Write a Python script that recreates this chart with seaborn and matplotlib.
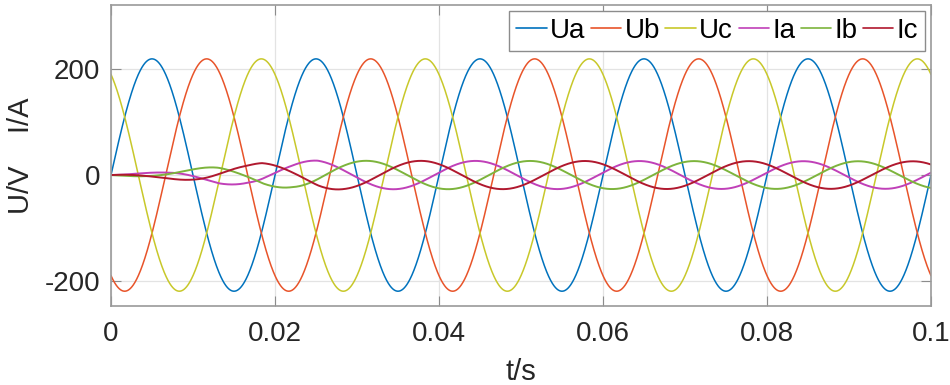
#!/usr/bin/env python3

# Three-phase grid voltages and inverter currents during start-up.

import matplotlib.pyplot as plt
import numpy as np
import pandas
import seaborn as sns

# values
phases = ["a", "b", "c"]
phase_shift_deg = [0, -120, 120]
volt_peak = 220.0
freq_hz = 50.0
t_end = 0.1
# current leads the voltage slightly
current_lead_deg = 10
# current peak values as the controller ramps up (t in s, amplitude in A)
env_t = [0, 0.0066, 0.0098, 0.0131, 0.0167, 0.0184, 0.022, 0.0252, 0.0285, 0.1]
env_amp = [0, 6, 11, 17, 19, 23, 24, 28, 27, 26]

series_names = ["Ua", "Ub", "Uc", "Ia", "Ib", "Ic"]
colors = ["#0072BD", "#E8542A", "#C8C82A", "#C040B8", "#7DB43C", "#B0182E"]
xticks = [0, 0.02, 0.04, 0.06, 0.08, 0.1]
xticklabels = ["0", "0.02", "0.04", "0.06", "0.08", "0.1"]
yticks = [-200, 0, 200]


def build_frame():
    t = np.linspace(0, t_end, 4001)
    w = 2 * np.pi * freq_hz
    env = np.interp(t, env_t, env_amp)
    rows = []
    for p, shift in zip(phases, phase_shift_deg):
        u = volt_peak * np.sin(w * t + np.radians(shift))
        rows.append(pandas.DataFrame({"t": t, "value": u, "series": "U" + p}))
    for p, shift in zip(phases, phase_shift_deg):
        i = env * np.sin(w * t + np.radians(shift + current_lead_deg))
        rows.append(pandas.DataFrame({"t": t, "value": i, "series": "I" + p}))
    return pandas.concat(rows, ignore_index=True)


def make_plot(df, outfile="out.png"):
    sns.set_theme(style="whitegrid")
    plt.rcParams["font.family"] = ["Liberation Sans", "DejaVu Sans"]
    plt.rcParams["axes.unicode_minus"] = False

    fig = plt.figure(figsize=(9.5, 3.85), dpi=100)
    ax = fig.add_axes([111 / 950, 1 - 306 / 385, 820 / 950, 301 / 385])

    palette = dict(zip(series_names, colors))
    widths = {"Ua": 1.1, "Ub": 1.1, "Uc": 1.1, "Ia": 1.4, "Ib": 1.4, "Ic": 1.4}
    for name in series_names:
        sub = df[df["series"] == name]
        sns.lineplot(
            data=sub,
            x="t",
            y="value",
            color=palette[name],
            linewidth=widths[name],
            estimator=None,
            sort=False,
            label=name,
            ax=ax,
        )

    ax.set_xlim(0, t_end)
    ax.set_ylim(-248, 322)
    ax.set_xticks(xticks)
    ax.set_xticklabels(xticklabels)
    ax.set_yticks(yticks)
    ax.tick_params(
        axis="both",
        which="both",
        direction="in",
        length=7,
        width=0.8,
        color="#8c8c8c",
        labelsize=20,
        labelcolor="#262626",
        top=True,
        right=True,
        bottom=True,
        left=True,
    )
    ax.tick_params(axis="x", pad=11)
    ax.tick_params(axis="y", pad=8)
    ax.grid(True, color="#e3e3e3", linewidth=0.9)
    for spine in ax.spines.values():
        spine.set_color("#9a9a9a")
        spine.set_linewidth(1.2)

    ax.set_xlabel("t/s", fontsize=21, color="#262626", labelpad=8)
    ax.set_ylabel("U/V    I/A", fontsize=21, color="#262626", labelpad=7)

    leg = ax.legend(
        loc="upper right",
        ncol=6,
        fontsize=20,
        labelcolor="black",
        handlelength=1.1,
        handletextpad=0.11,
        columnspacing=0.2,
        borderpad=0.25,
        borderaxespad=0.22,
        fancybox=False,
        framealpha=1,
        edgecolor="#8c8c8c",
    )
    leg.get_frame().set_linewidth(1.0)
    for line in leg.get_lines():
        line.set_linewidth(1.2)

    fig.savefig(outfile, dpi=100)
    plt.close(fig)


if __name__ == "__main__":
    make_plot(build_frame())
